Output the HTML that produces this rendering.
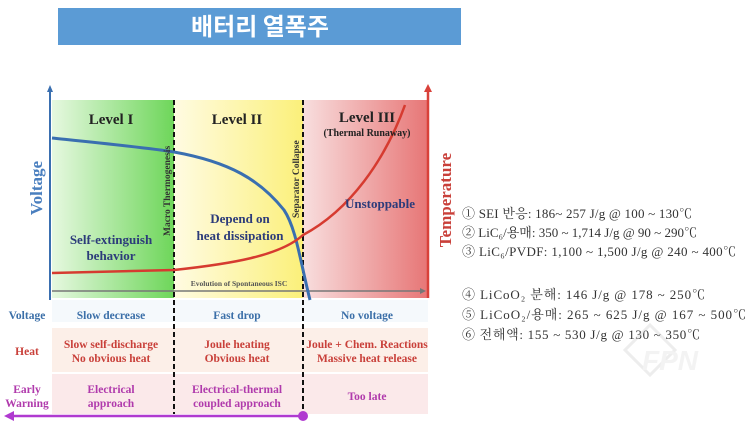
<!DOCTYPE html>
<html><head><meta charset="utf-8"><style>
html,body{margin:0;padding:0;background:#fff;width:750px;height:424px;overflow:hidden}
svg{display:block}
.s{font-family:"Liberation Serif","Noto Serif CJK SC",serif;font-weight:bold}
.k{font-family:"Liberation Serif","Noto Serif CJK KR",serif;font-size:13px;fill:#333}
</style></head><body>
<svg width="750" height="424" viewBox="0 0 750 424" xmlns="http://www.w3.org/2000/svg">
<defs>
<linearGradient id="g1" x1="0" x2="1"><stop offset="0" stop-color="#e6f8e0"/><stop offset="1" stop-color="#6ed65a"/></linearGradient>
<linearGradient id="g2" x1="0" x2="1"><stop offset="0" stop-color="#fffbe2"/><stop offset="1" stop-color="#fbf07a"/></linearGradient>
<linearGradient id="g3" x1="0" x2="1"><stop offset="0" stop-color="#f8dede"/><stop offset="1" stop-color="#e77676"/></linearGradient>
</defs>
<rect x="58" y="8" width="403" height="37" fill="#5b9bd5"/>
<text x="260" y="35" text-anchor="middle" font-family="'Noto Sans CJK KR',sans-serif" font-size="24" font-weight="bold" fill="#fff">배터리 열폭주</text>

<rect x="52" y="100" width="122" height="198" fill="url(#g1)"/>
<rect x="174" y="100" width="129" height="198" fill="url(#g2)"/>
<rect x="303" y="100" width="125" height="198" fill="url(#g3)"/>

<rect x="52" y="300" width="376" height="22" fill="#f5f9fc"/>
<rect x="52" y="328" width="376" height="44" fill="#fcefe8"/>
<rect x="52" y="374" width="376" height="40" fill="#fbe9ea"/>

<line x1="50" y1="91" x2="50" y2="300" stroke="#3a6fb0" stroke-width="2"/>
<polygon points="50,85 47,92 53,92" fill="#3a6fb0"/>
<line x1="428" y1="91" x2="428" y2="298" stroke="#d9413a" stroke-width="2.5"/>
<polygon points="428,84 424,92 432,92" fill="#d9413a"/>
<line x1="52" y1="291" x2="422" y2="291" stroke="#777" stroke-width="1.5"/>
<polygon points="426,291 420,288 420,294" fill="#777"/>

<line x1="174" y1="100" x2="174" y2="414" stroke="#111" stroke-width="2" stroke-dasharray="5,3"/>
<line x1="303" y1="100" x2="303" y2="414" stroke="#111" stroke-width="2" stroke-dasharray="5,3"/>

<path d="M52,138 C110,144 150,148 174,152 C230,162 260,180 284,210 C296,228 300,260 310,300" fill="none" stroke="#3a6fb0" stroke-width="3"/>
<path d="M52,273 L174,270 C230,264 280,256 303,235 C350,210 385,160 405,105" fill="none" stroke="#d63b30" stroke-width="2.5"/>

<text class="s" x="111" y="124" text-anchor="middle" font-size="15" fill="#222">Level I</text>
<text class="s" x="237" y="124" text-anchor="middle" font-size="15" fill="#222">Level II</text>
<text class="s" x="367" y="122" text-anchor="middle" font-size="15" fill="#222">Level III</text>
<text class="s" x="367" y="136" text-anchor="middle" font-size="10" fill="#222">(Thermal Runaway)</text>
<text class="s" x="380" y="208" text-anchor="middle" font-size="13" fill="#2c3b7a">Unstoppable</text>
<text class="s" x="240" y="223" text-anchor="middle" font-size="13" fill="#2c3b7a">Depend on</text>
<text class="s" x="240" y="240" text-anchor="middle" font-size="13" fill="#2c3b7a">heat dissipation</text>
<text class="s" x="111" y="244" text-anchor="middle" font-size="13" fill="#2c3b7a">Self-extinguish</text>
<text class="s" x="111" y="260" text-anchor="middle" font-size="13" fill="#2c3b7a">behavior</text>
<text class="s" x="239" y="286" text-anchor="middle" font-size="7.5" fill="#555">Evolution of Spontaneous ISC</text>
<text class="s" font-size="9.5" fill="#333" font-weight="normal" transform="translate(170,236) rotate(-90)">Macro Thermogenesis</text>
<text class="s" font-size="9.5" fill="#333" font-weight="normal" transform="translate(299,218) rotate(-90)">Separator Collapse</text>
<text class="s" font-size="17" fill="#4a7fbf" text-anchor="middle" transform="translate(42,188) rotate(-90)">Voltage</text>
<text class="s" font-size="17" fill="#c9403a" text-anchor="middle" transform="translate(451,200) rotate(-90)">Temperature</text>

<g class="s" font-size="11.5" text-anchor="middle">
<text x="27" y="319" fill="#3b6fa8">Voltage</text>
<text x="111" y="319" fill="#3b6fa8">Slow decrease</text>
<text x="237" y="319" fill="#3b6fa8">Fast drop</text>
<text x="367" y="319" fill="#3b6fa8">No voltage</text>
<text x="27" y="355" fill="#c9403a">Heat</text>
<text x="111" y="348" fill="#c9403a">Slow self-discharge</text>
<text x="111" y="362" fill="#c9403a">No obvious heat</text>
<text x="237" y="348" fill="#c9403a">Joule heating</text>
<text x="237" y="362" fill="#c9403a">Obvious heat</text>
<text x="367" y="348" fill="#c9403a">Joule + Chem. Reactions</text>
<text x="367" y="362" fill="#c9403a">Massive heat release</text>
<text x="27" y="393" fill="#b03aac">Early</text>
<text x="27" y="407" fill="#b03aac">Warning</text>
<text x="111" y="393" fill="#b03aac">Electrical</text>
<text x="111" y="407" fill="#b03aac">approach</text>
<text x="237" y="393" fill="#b03aac">Electrical-thermal</text>
<text x="237" y="407" fill="#b03aac">coupled approach</text>
<text x="367" y="400" fill="#b03aac">Too late</text>
</g>
<line x1="12" y1="416" x2="303" y2="416" stroke="#b03ad0" stroke-width="2.5"/>
<polygon points="4,416 14,411 14,421" fill="#b03ad0"/>
<circle cx="303" cy="416" r="5" fill="#b03ad0"/>

<text class="k" x="462" y="218" textLength="230" lengthAdjust="spacing">① SEI 반응: 186~ 257 J/g @ 100 ~ 130℃</text>
<text class="k" x="462" y="237" textLength="235" lengthAdjust="spacing">② LiC₆/용매: 350 ~ 1,714 J/g @ 90 ~ 290℃</text>
<text class="k" x="462" y="256" textLength="274" lengthAdjust="spacing">③ LiC₆/PVDF: 1,100 ~ 1,500 J/g @ 240 ~ 400℃</text>
<text class="k" x="462" y="299" textLength="243" lengthAdjust="spacing">④ LiCoO₂ 분해: 146 J/g @ 178 ~ 250℃</text>
<text class="k" x="462" y="319" textLength="284" lengthAdjust="spacing">⑤ LiCoO₂/용매: 265 ~ 625 J/g @ 167 ~ 500℃</text>
<text class="k" x="462" y="339" textLength="238" lengthAdjust="spacing">⑥ 전해액: 155 ~ 530 J/g @ 130 ~ 350℃</text>

<g opacity="0.35">
<polygon points="650,325 675,350 650,375 625,350" fill="none" stroke="#ccc" stroke-width="3"/>
<text x="670" y="370" font-family="'Liberation Sans',sans-serif" font-style="italic" font-weight="bold" font-size="28" fill="#ddd" text-anchor="middle">FPN</text>
</g>
</svg>
</body></html>
